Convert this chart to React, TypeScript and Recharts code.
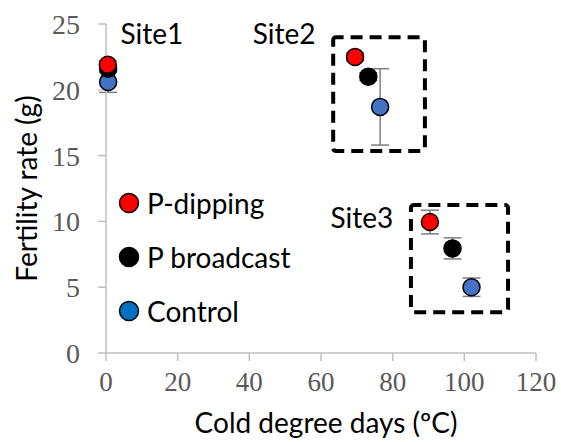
import React from 'react';
import { ScatterChart, Scatter, XAxis, YAxis, ErrorBar, ReferenceArea, ReferenceDot, Legend, Label } from 'recharts';

const pDippingX = [0.5, 69.5, 90.4];
const pDippingY = [21.9, 22.5, 9.95];
const pDippingErr = [0.3, 0.3, 0.9];

const pBroadcastX = [0.6, 73.2, 96.7];
const pBroadcastY = [21.6, 21.0, 7.95];
const pBroadcastErr = [0.3, 0.3, 0.8];

const controlX = [0.6, 76.5, 102.0];
const controlY = [20.6, 18.7, 5.0];
const controlErr = [0.8, 2.9, 0.7];

const xTicks = [0, 20, 40, 60, 80, 100, 120];
const yTicks = [0, 5, 10, 15, 20, 25];

const build = (xs: number[], ys: number[], es: number[]) => xs.map((x, i) => ({ x, y: ys[i], err: es[i] }));
const pDipping = build(pDippingX, pDippingY, pDippingErr);
const pBroadcast = build(pBroadcastX, pBroadcastY, pBroadcastErr);
const control = build(controlX, controlY, controlErr);

const legendItems = [
  { name: 'P-dipping', color: '#ff0000' },
  { name: 'P broadcast', color: '#000000' },
  { name: 'Control', color: '#0070c0' },
];

const sans = 'Lato, "Open Sans", sans-serif';
const serif = '"Liberation Serif", "Times New Roman", serif';

const LegendContent = () => (
  <div style={{ fontFamily: sans, fontSize: 28, color: '#000', lineHeight: 1 }}>
    {legendItems.map((it) => (
      <div key={it.name} style={{ display: 'flex', alignItems: 'center', height: 54, whiteSpace: 'nowrap' }}>
        <svg width={22} height={22} style={{ marginRight: 7 }}>
          <circle cx={11} cy={11} r={9.5} fill={it.color} stroke="#000" strokeWidth={1.5} />
        </svg>
        <span>{it.name}</span>
      </div>
    ))}
  </div>
);

const siteLabel = (v: string) => ({ value: v, position: 'center' as const, fill: '#000', fontSize: 28, fontFamily: sans });

export default function App() {
  return (
    <div style={{ position: 'absolute', left: 0, top: 0, background: '#fff' }}>
      <ScatterChart width={561} height={442} margin={{ top: 24, right: 25, left: 0, bottom: 0 }}>
        <XAxis
          type="number"
          dataKey="x"
          domain={[0, 120]}
          ticks={xTicks}
          height={89}
          axisLine={{ stroke: '#bfbfbf', strokeWidth: 1.5 }}
          tickLine={{ stroke: '#bfbfbf', strokeWidth: 1.5 }}
          tickSize={8}
          tickMargin={11}
          tick={{ fill: '#595959', fontSize: 27, fontFamily: serif }}
          interval={0}
        >
          <Label value="Cold degree days (ºC)" position="insideBottom" offset={9} dx={5} style={{ fill: '#000', fontSize: 28, fontFamily: sans }} />
        </XAxis>
        <YAxis
          type="number"
          dataKey="y"
          domain={[0, 25]}
          ticks={yTicks}
          width={106}
          axisLine={{ stroke: '#bfbfbf', strokeWidth: 1.5 }}
          tickLine={{ stroke: '#bfbfbf', strokeWidth: 1.5 }}
          tickSize={8}
          tickMargin={18}
          tick={{ fill: '#595959', fontSize: 28, fontFamily: serif }}
          interval={0}
        >
          <Label value="Fertility rate (g)" angle={-90} position="insideLeft" offset={27} style={{ fill: '#000', fontSize: 28, fontFamily: sans, textAnchor: 'middle' }} />
        </YAxis>
        <ReferenceArea x1={63.4} x2={89} y1={15.35} y2={24.0} fill="none" stroke="#000" strokeWidth={4} strokeDasharray="12 7" radius={3} ifOverflow="visible" />
        <ReferenceArea x1={85.1} x2={112.2} y1={3.1} y2={11.25} fill="none" stroke="#000" strokeWidth={4} strokeDasharray="12 7" radius={3} ifOverflow="visible" />
        <Scatter name="Control" data={control} fill="#4472c4" isAnimationActive={false} shape={(p: any) => <circle cx={p.cx} cy={p.cy} r={8.5} fill="#4472c4" stroke="#000" strokeWidth={1.5} />}>
          <ErrorBar dataKey="err" direction="y" width={9} stroke="#7f7f7f" strokeWidth={1.5} />
        </Scatter>
        <Scatter name="P broadcast" data={pBroadcast} fill="#000" isAnimationActive={false} shape={(p: any) => <circle cx={p.cx} cy={p.cy} r={8.5} fill="#000" stroke="#000" strokeWidth={1.5} />}>
          <ErrorBar dataKey="err" direction="y" width={9} stroke="#7f7f7f" strokeWidth={1.5} />
        </Scatter>
        <Scatter name="P-dipping" data={pDipping} fill="#ff0000" isAnimationActive={false} shape={(p: any) => <circle cx={p.cx} cy={p.cy} r={8.5} fill="#ff0000" stroke="#000" strokeWidth={1.5} />}>
          <ErrorBar dataKey="err" direction="y" width={9} stroke="#7f7f7f" strokeWidth={1.5} />
        </Scatter>
        <ReferenceDot x={12.8} y={24.26} r={0} ifOverflow="visible" label={siteLabel('Site1')} />
        <ReferenceDot x={49.7} y={24.26} r={0} ifOverflow="visible" label={siteLabel('Site2')} />
        <ReferenceDot x={71.4} y={10.26} r={0} ifOverflow="visible" label={siteLabel('Site3')} />
        <Legend content={<LegendContent />} layout="horizontal" verticalAlign="middle" align="center" wrapperStyle={{ left: 118, top: 176, width: 'auto' }} />
      </ScatterChart>
    </div>
  );
}
